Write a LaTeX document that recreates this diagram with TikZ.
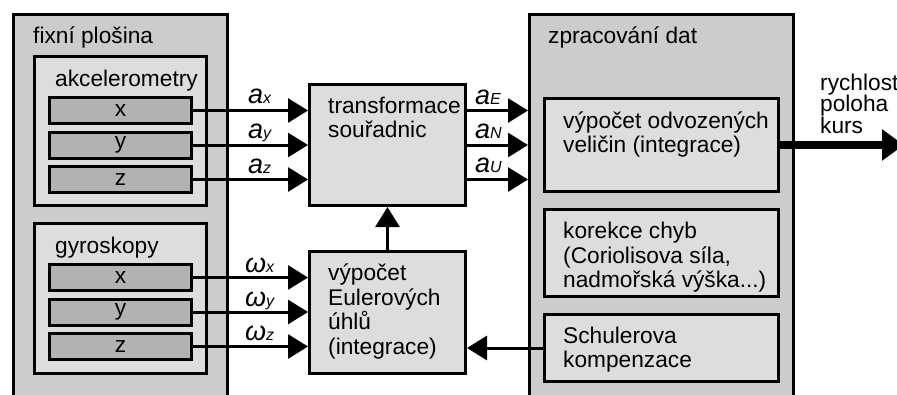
\documentclass[tikz,border=0pt]{standalone}
\usepackage{fontspec}
\setmainfont{Liberation Sans}
\usetikzlibrary{arrows.meta}
\definecolor{outergray}{RGB}{204,204,204}
\definecolor{innergray}{RGB}{221,221,221}
\definecolor{bargray}{RGB}{178,178,178}
\newcommand{\veli}[2]{\textit{#1{\fontsize{16}{16}\selectfont #2}}}

\begin{document}
\begin{tikzpicture}[x=1pt,y=-1pt]
      \tikzstyle{every node}=[inner sep=0pt,font=\fontsize{22.7}{24.5}\selectfont]
      \tikzstyle{box}=[draw,line width=3pt,fill=innergray,anchor=north west]
      \tikzstyle{bar}=[box,fill=bargray,minimum width=142pt,minimum height=26pt]
      \tikzstyle{txt}=[anchor=base west,align=left]
      \tikzstyle{lbl}=[anchor=base west,font=\fontsize{27}{27}\selectfont]
      \tikzstyle{arr}=[line width=3pt,-{Triangle[length=20pt,width=24pt]}]

      \useasboundingbox (0,0) rectangle (897,394);
      \clip (0,0) rectangle (897,394);

      \node[box,fill=outergray,minimum width=214pt,minimum height=420pt] (plosina) at (12,13) {};
      \node[box,minimum width=172pt,minimum height=149pt] (akcel) at (33,55) {};
      \node[box,minimum width=172pt,minimum height=150pt] (gyro) at (33,222) {};

      \node[bar] (ax) at (48,96) {x};
      \node[bar] (ay) at (48,130.5) {y};
      \node[bar] (az) at (48,165) {z};
      \node[bar] (gx) at (48,263) {x};
      \node[bar] (gy) at (48,297.5) {y};
      \node[bar] (gz) at (48,332) {z};

      \node[box,minimum width=156pt,minimum height=121pt] (trans) at (308,83) {};
      \node[box,minimum width=156pt,minimum height=122pt] (euler) at (308,250) {};

      \node[box,fill=outergray,minimum width=264pt,minimum height=420pt] (zprac) at (528,13) {};
      \node[box,minimum width=234pt,minimum height=93pt] (vypocet) at (543,97) {};
      \node[box,minimum width=234pt,minimum height=87pt] (korekce) at (543,208) {};
      \node[box,minimum width=234pt,minimum height=67pt] (schuler) at (543,313) {};

      % multi-line texts sit on the baseline of their last line
      \node[txt] (tplosina) at (33,43) {fixní plošina};
      \node[txt] (takcel) at (55,86) {akcelerometry};
      \node[txt] (tgyro) at (55,253) {gyroskopy};
      \node[txt] (ttrans) at (328,137.5) {transformace\\souřadnic};
      \node[txt] (teuler) at (328,354) {výpočet\\Eulerových\\úhlů\\(integrace)};
      \node[txt] (tzprac) at (548,43) {zpracování dat};
      \node[txt] (tvypocet) at (563,152.5) {výpočet odvozených\\veličin (integrace)};
      \node[txt] (tkorekce) at (563,287.5) {korekce chyb\\(Coriolisova síla,\\nadmořská výška...)};
      \node[txt] (tschuler) at (563,367.5) {Schulerova\\kompenzace};
      \node[txt,font=\fontsize{22.7}{21.5}\selectfont] (tvystup) at (820,133) {rychlost\\poloha\\kurs};

      \node[lbl] (lax) at (248,103) {\veli{a}{x}};
      \node[lbl] (lay) at (248,138) {\veli{a}{y}};
      \node[lbl] (laz) at (248,173) {\veli{a}{z}};
      \node[lbl] (lae) at (475,104) {\veli{a}{E}};
      \node[lbl] (lan) at (475,138) {\veli{a}{N}};
      \node[lbl] (lau) at (475,172) {\veli{a}{U}};
      \node[lbl] (lgx) at (245,272) {\veli{ω}{x}};
      \node[lbl] (lgy) at (245,306) {\veli{ω}{y}};
      \node[lbl] (lgz) at (245,340) {\veli{ω}{z}};

      \draw[arr] (ax) -- (ax -| trans.west);
      \draw[arr] (ay) -- (ay -| trans.west);
      \draw[arr] (az) -- (az -| trans.west);

      \draw[arr] (trans.east |- ax) -- (zprac.west |- ax);
      \draw[arr] (trans.east |- ay) -- (zprac.west |- ay);
      \draw[arr] (trans.east |- az) -- (zprac.west |- az);

      \draw[arr] (gx) -- (gx -| euler.west);
      \draw[arr] (gy) -- (gy -| euler.west);
      \draw[arr] (gz) -- (gz -| euler.west);

      \draw[arr] (euler) -- (trans);
      \draw[arr] (schuler) -- (schuler -| euler.east);

      \coordinate (vystup) at (904,145);
      \draw[line width=8pt,-{Triangle[length=22pt,width=30pt]}] (vypocet) -- (vystup);
    \end{tikzpicture}
\end{document}
